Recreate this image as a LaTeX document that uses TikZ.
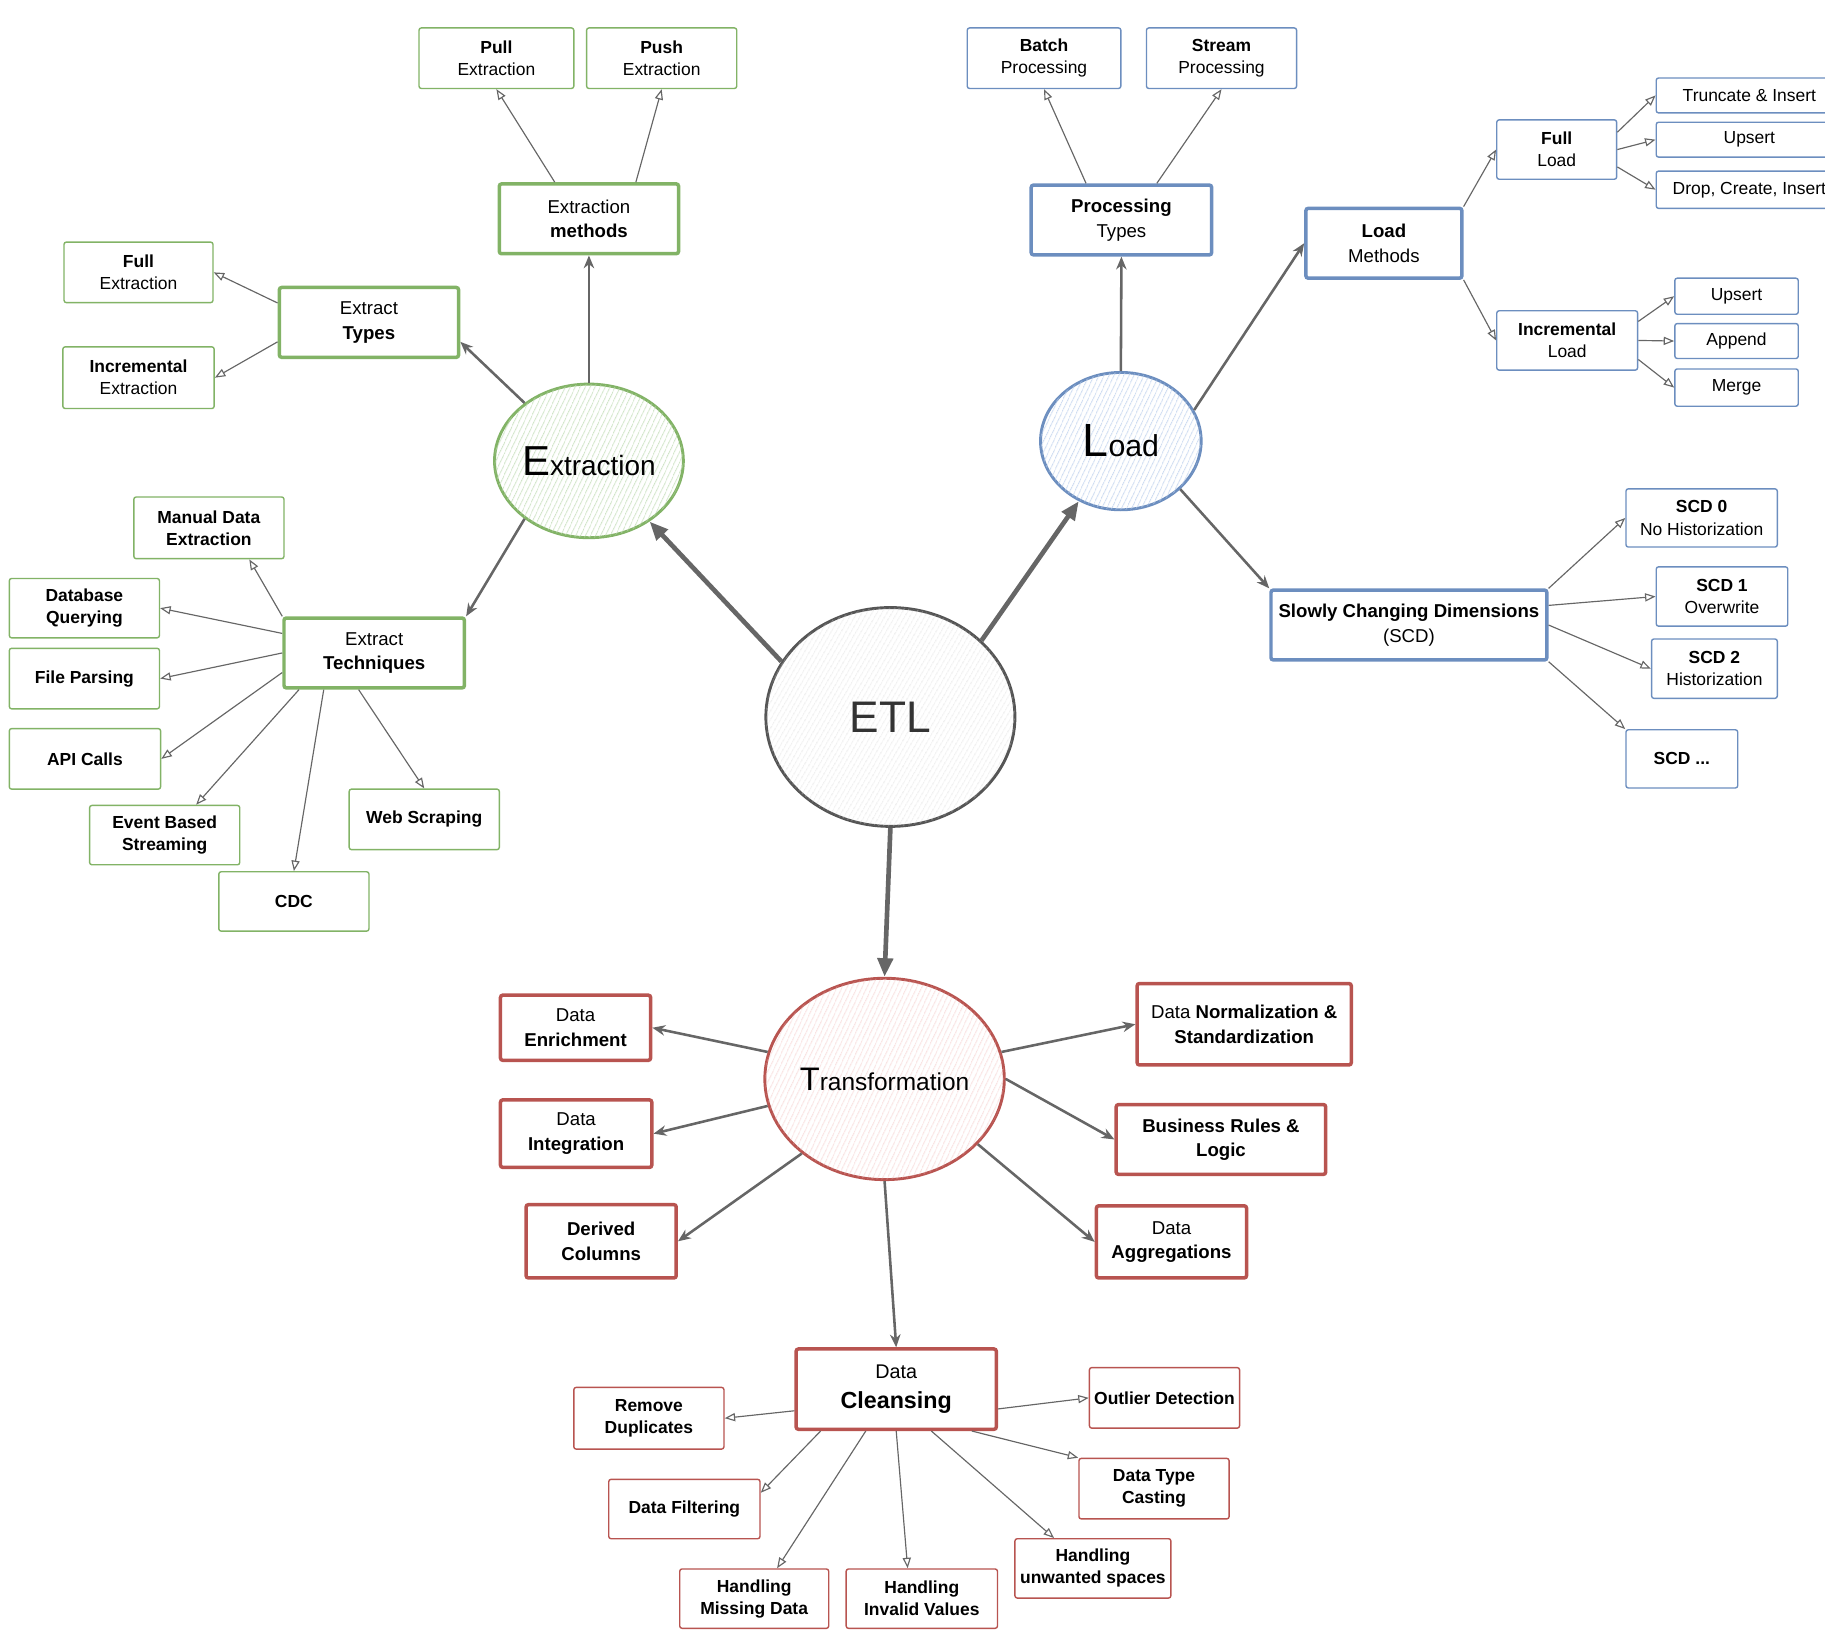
\documentclass[tikz,border=0pt]{standalone}
\usepackage{fontspec}
\setmainfont{Liberation Sans}
\usetikzlibrary{shapes.geometric,arrows.meta,patterns.meta}
\definecolor{grn}{HTML}{82B366}
\definecolor{grnh}{HTML}{B5D6A7}
\definecolor{blu}{HTML}{6C8EBF}
\definecolor{bluh}{HTML}{B1C8EA}
\definecolor{rd}{HTML}{B85450}
\definecolor{rdh}{HTML}{F0B0AE}
\definecolor{etlc}{HTML}{555555}
\definecolor{etlt}{HTML}{333333}
\definecolor{etlh}{HTML}{D4D4D4}
\definecolor{arr}{HTML}{666666}

\begin{document}
\begin{tikzpicture}[x=1pt,y=-1pt]
\tikzstyle{leaf}=[rectangle,draw,rounded corners=2pt,line width=1.2pt,fill=white,align=center,inner sep=0pt,minimum width=129,minimum height=52,font=\fontsize{15}{19}\selectfont]
\tikzstyle{hub}=[leaf,line width=3pt,minimum width=155,minimum height=60,font=\fontsize{16}{21}\selectfont]
\tikzstyle{gl}=[leaf,draw=grn]
\tikzstyle{gh}=[hub,draw=grn]
\tikzstyle{bl}=[leaf,draw=blu]
\tikzstyle{bh}=[hub,draw=blu]
\tikzstyle{rl}=[leaf,draw=rd]
\tikzstyle{rh}=[hub,draw=rd]
\tikzstyle{blob}=[ellipse,draw,line width=2.5pt,inner sep=0pt,fill=white]
\tikzstyle{big}=[draw=arr,line width=4pt,-{Triangle[length=16pt,width=13pt]}]
\tikzstyle{mid}=[draw=arr,line width=2.2pt,-{Stealth[length=11pt,width=9pt]}]
\tikzstyle{ed}=[draw=arr,line width=1pt,-{Triangle[open,length=9pt,width=7pt]}]
\useasboundingbox (0,0) rectangle (1568,1400);
\clip (0,0) rectangle (1568,1400);
\node [blob,draw=etlc,text=etlt,minimum width=214,minimum height=188,postaction={pattern={Lines[angle=60,distance=4pt,line width=.5pt]},pattern color=etlh}] (etl) at (765,616) {\fontsize{38}{38}\selectfont ETL};
\node [blob,draw=grn,minimum width=157,minimum height=132,postaction={pattern={Lines[angle=65,distance=4pt,line width=.6pt]},pattern color=grnh}] (extr) at (506,396) {{\fontsize{36}{36}\selectfont E}{\fontsize{24}{24}\selectfont xtraction}};
\node [blob,draw=blu,minimum width=138,minimum height=118,postaction={pattern={Lines[angle=65,distance=4pt,line width=.6pt]},pattern color=bluh}] (load) at (963,379) {{\fontsize{40}{40}\selectfont L}{\fontsize{26}{26}\selectfont oad}};
\node [blob,draw=rd,minimum width=196,minimum height=173,postaction={pattern={Lines[angle=65,distance=4pt,line width=.6pt]},pattern color=rdh}] (trf) at (760,927) {{\fontsize{28}{28}\selectfont T}{\fontsize{21}{21}\selectfont ransformation}};
\node [gl,minimum width=133] (pull) at (426.5,50) {\textbf{Pull}\\Extraction};
\node [gl] (push) at (568.5,50) {\textbf{Push}\\Extraction};
\node [gh,minimum width=154] (exm) at (506,188) {Extraction\\\textbf{methods}};
\node [gl,minimum width=128] (fullx) at (119,234) {\textbf{Full}\\Extraction};
\node [gh,minimum width=154] (ext) at (317,277) {Extract\\\textbf{Types}};
\node [gl,minimum width=130,minimum height=53] (incx) at (119,324.5) {\textbf{Incremental}\\Extraction};
\node [gl,minimum height=53] (manual) at (179.5,453.5) {\textbf{Manual Data}\\\textbf{Extraction}};
\node [gl,minimum height=51] (dbq) at (72.5,522.5) {\textbf{Database}\\\textbf{Querying}};
\node [gh] (etq) at (321.5,561) {Extract\\\textbf{Techniques}};
\node [gl] (file) at (72.5,583) {\textbf{File Parsing}};
\node [gl,minimum width=130] (api) at (73,652) {\textbf{API Calls}};
\node [gl,minimum height=51] (event) at (141.5,717.5) {\textbf{Event Based}\\\textbf{Streaming}};
\node [gl] (web) at (364.5,704) {\textbf{Web Scraping}};
\node [gl,minimum height=51] (cdc) at (252.5,774.5) {\textbf{CDC}};
\node [bl,minimum width=132] (batch) at (897,50) {\textbf{Batch}\\Processing};
\node [bl] (stream) at (1049.5,50) {\textbf{Stream}\\Processing};
\node [bh] (proc) at (963.5,189) {\textbf{Processing}\\Types};
\node [bh,minimum width=134] (lm) at (1189,209) {\textbf{Load}\\Methods};
\node [bl,minimum width=103,minimum height=51] (fl) at (1337.5,128.5) {\textbf{Full}\\Load};
\node [bl,minimum width=160,minimum height=30] (trunc) at (1503,82) {Truncate \& Insert};
\node [bl,minimum width=160,minimum height=30] (ups1) at (1503,120) {Upsert};
\node [bl,minimum width=160,minimum height=32] (drop) at (1503,163) {Drop, Create, Insert};
\node [bl,minimum width=121,minimum height=51] (il) at (1346.5,292.5) {\textbf{Incremental}\\Load};
\node [bl,minimum width=106,minimum height=31] (ups2) at (1492,254.5) {Upsert};
\node [bl,minimum width=106,minimum height=30] (app) at (1492,293) {Append};
\node [bl,minimum width=106,minimum height=32] (mrg) at (1492,333) {Merge};
\node [bh,minimum width=237] (scd) at (1210.5,537) {\textbf{Slowly Changing Dimensions}\\(SCD)};
\node [bl,minimum width=130,minimum height=50] (scd0) at (1462,445) {\textbf{SCD 0}\\No Historization};
\node [bl,minimum width=113,minimum height=51] (scd1) at (1479.5,512.5) {\textbf{SCD 1}\\Overwrite};
\node [bl,minimum width=108,minimum height=51] (scd2) at (1473,574.5) {\textbf{SCD 2}\\Historization};
\node [bl,minimum width=96,minimum height=50] (scdx) at (1445,652) {\textbf{SCD ...}};
\node [rh,minimum width=129,minimum height=56] (enr) at (494.5,883) {Data\\\textbf{Enrichment}};
\node [rh,minimum width=130,minimum height=58] (integ) at (495,974) {Data\\\textbf{Integration}};
\node [rh,minimum width=129,minimum height=63] (der) at (516.5,1066.5) {\textbf{Derived}\\\textbf{Columns}};
\node [rh,minimum width=184,minimum height=70] (norm) at (1069,880) {Data \textbf{Normalization \&}\\\textbf{Standardization}};
\node [rh,minimum width=180] (bus) at (1049,979) {\textbf{Business Rules \&}\\\textbf{Logic}};
\node [rh,minimum width=129,minimum height=62] (agg) at (1006.5,1067) {Data\\\textbf{Aggregations}};
\node [rh,minimum width=172,minimum height=69,font=\fontsize{20}{25}\selectfont] (cln) at (770,1193.5) {{\fontsize{17}{20}\selectfont Data}\\\textbf{Cleansing}};
\node [rl,minimum height=53] (dup) at (557.5,1218.5) {\textbf{Remove}\\\textbf{Duplicates}};
\node [rl] (outl) at (1000.5,1201) {\textbf{Outlier Detection}};
\node [rl,minimum width=130,minimum height=51] (filt) at (588,1296.5) {\textbf{Data Filtering}};
\node [rl] (cast) at (991.5,1279) {\textbf{Data Type}\\\textbf{Casting}};
\node [rl,minimum width=128,minimum height=51] (miss) at (648,1373.5) {\textbf{Handling}\\\textbf{Missing Data}};
\node [rl,minimum width=130,minimum height=51] (inv) at (792,1373.5) {\textbf{Handling}\\\textbf{Invalid Values}};
\node [rl,minimum width=134,minimum height=51] (spc) at (939,1347.5) {\textbf{Handling}\\\textbf{unwanted spaces}};
\draw [big] (etl.153) -- (extr.-45);
\draw [big] (etl.40) -- (load.235);
\draw [big] (etl.south) -- (trf.north);
\draw [mid] (extr.north) -- (exm.south);
\draw [mid] (extr.138) -- (ext.-12);
\draw [mid] (extr.222) -- (etq.north east);
\draw [ed] (exm.133) -- (pull.south);
\draw [ed] (exm.38) -- (push.south);
\draw [ed] (ext.168) -- (fullx.east);
\draw [ed] (ext.192) -- (incx.east);
\draw [ed] (etq.north west) -- (manual.-38);
\draw [ed] (etq.168) -- (dbq.east);
\draw [ed] (etq.west) -- (file.east);
\draw [ed] (etq.192) -- (api.east);
\draw [ed] (etq.206) -- (event.44);
\draw [ed] (etq.216) -- (cdc.north);
\draw [ed] (etq.247) -- (web.north);
\draw [mid] (load.north) -- (proc.south);
\draw [mid] (load.23) -- (lm.west);
\draw [mid] (load.-39) -- (scd.north west);
\draw [ed] (proc.134) -- (batch.south);
\draw [ed] (proc.46) -- (stream.south);
\draw [ed] (lm.north east) -- (fl.west);
\draw [ed] (lm.south east) -- (il.west);
\draw [ed] (fl.16) -- (trunc.west);
\draw [ed] (fl.east) -- (ups1.west);
\draw [ed] (fl.-16) -- (drop.west);
\draw [ed] (il.15) -- (ups2.west);
\draw [ed] (il.east) -- (app.west);
\draw [ed] (il.-15) -- (mrg.west);
\draw [ed] (scd.north east) -- (scd0.west);
\draw [ed] (scd.8) -- (scd1.west);
\draw [ed] (scd.east) -- (scd2.west);
\draw [ed] (scd.south east) -- (scdx.north west);
\draw [mid] (trf.167) -- (enr.east);
\draw [mid] (trf.193) -- (integ.east);
\draw [mid] (trf.222) -- (der.east);
\draw [mid] (trf.13) -- (norm.west);
\draw [mid] (trf.east) -- (bus.west);
\draw [mid] (trf.-35) -- (agg.west);
\draw [mid] (trf.south) -- (cln.north);
\draw [ed] (cln.192) -- (dup.east);
\draw [ed] (cln.-11) -- (outl.west);
\draw [ed] (cln.-29) -- (cast.north west);
\draw [ed] (cln.209) -- (filt.12);
\draw [ed] (cln.234) -- (miss.53);
\draw [ed] (cln.south) -- (inv.115);
\draw [ed] (cln.-50) -- (spc.142);
\end{tikzpicture}
\end{document}
